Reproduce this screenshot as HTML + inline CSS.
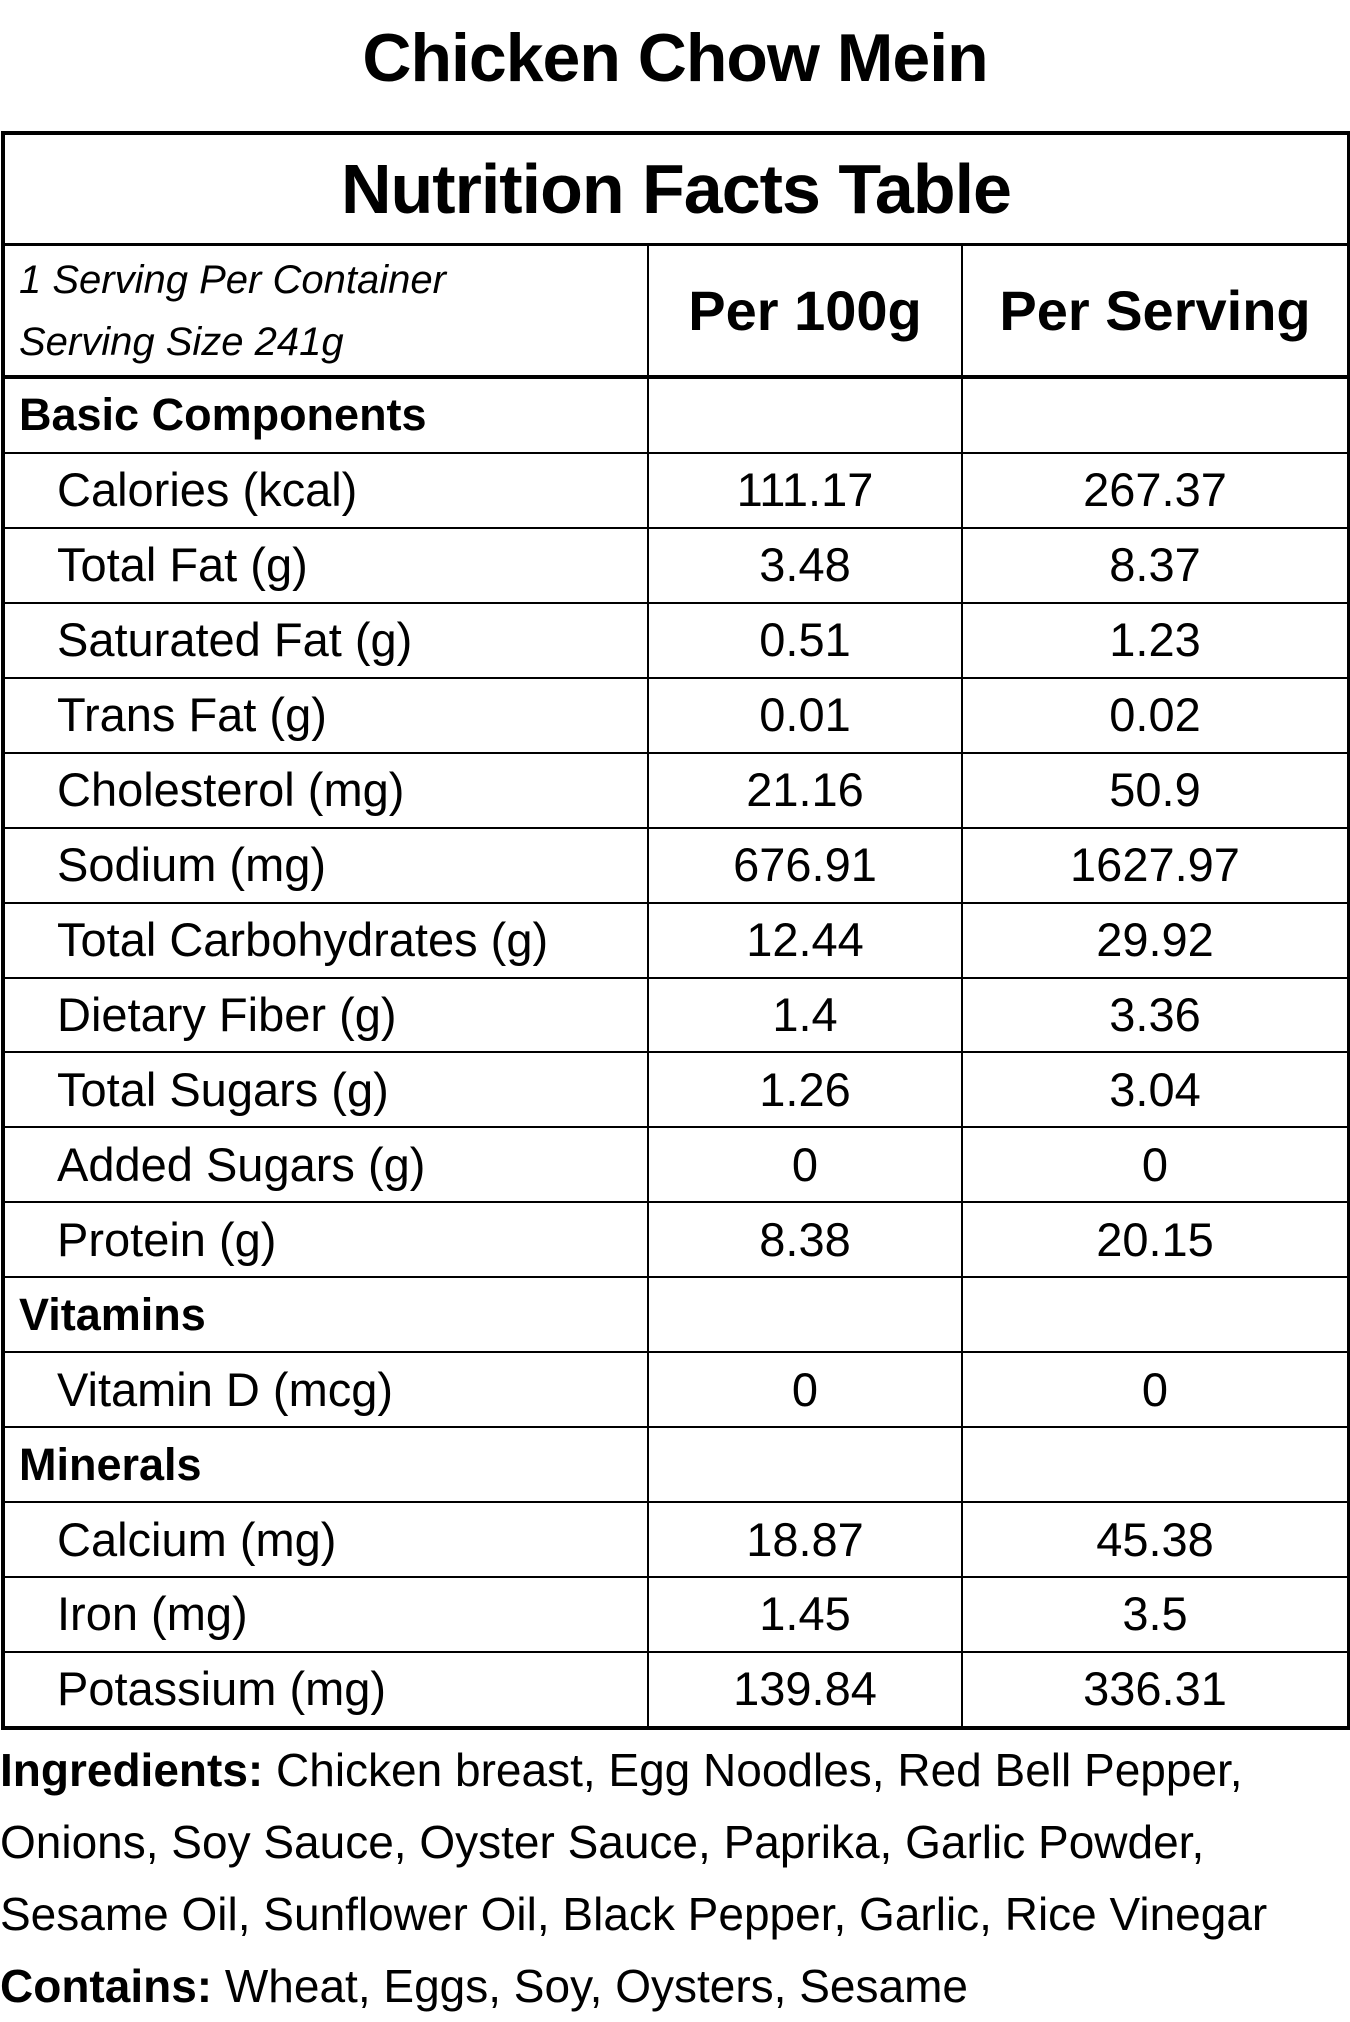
<!DOCTYPE html>
<html><head><meta charset="utf-8"><style>
html,body{margin:0;padding:0;background:#fff;width:1350px;height:2010px;overflow:hidden;font-family:"Liberation Sans",sans-serif;color:#000}
h1{position:absolute;top:18px;left:0;width:1350px;margin:0;text-align:center;font-size:68px;font-weight:bold;line-height:80px;letter-spacing:-1px}
table{position:absolute;left:1px;top:131px;width:1350px;border-collapse:collapse;table-layout:fixed;border:4px solid #000}
td{border:2px solid #000;padding:0;font-size:47px;text-align:center;height:72.95px;line-height:72px;white-space:nowrap;overflow:hidden}
td.l{text-align:left;padding-left:52px}
td.s{text-align:left;padding-left:14px;font-weight:bold;font-size:45px}
tr.title td{height:108px;font-size:70px;font-weight:bold;border-bottom:3px solid #000;letter-spacing:-1px}
tr.hd td{height:129px;border-bottom:4px solid #000;font-size:56px;font-weight:bold;line-height:62px}
tr.hd td.it{font-style:italic;font-weight:normal;font-size:40px;text-align:left;padding-left:14px;line-height:62px}
.ing{position:absolute;left:0;top:1734px;width:1350px;font-size:46px;line-height:72px}
</style></head><body>
<h1>Chicken Chow Mein</h1>
<table>
<colgroup><col style="width:645px"><col style="width:314px"><col></colgroup>
<tr class="title"><td colspan="3">Nutrition Facts Table</td></tr>
<tr class="hd"><td class="it">1 Serving Per Container<br>Serving Size 241g</td><td>Per 100g</td><td>Per Serving</td></tr>
<tr><td class="s">Basic Components</td><td></td><td></td></tr>
<tr><td class="l">Calories (kcal)</td><td>111.17</td><td>267.37</td></tr>
<tr><td class="l">Total Fat (g)</td><td>3.48</td><td>8.37</td></tr>
<tr><td class="l">Saturated Fat (g)</td><td>0.51</td><td>1.23</td></tr>
<tr><td class="l">Trans Fat (g)</td><td>0.01</td><td>0.02</td></tr>
<tr><td class="l">Cholesterol (mg)</td><td>21.16</td><td>50.9</td></tr>
<tr><td class="l">Sodium (mg)</td><td>676.91</td><td>1627.97</td></tr>
<tr><td class="l">Total Carbohydrates (g)</td><td>12.44</td><td>29.92</td></tr>
<tr><td class="l">Dietary Fiber (g)</td><td>1.4</td><td>3.36</td></tr>
<tr><td class="l">Total Sugars (g)</td><td>1.26</td><td>3.04</td></tr>
<tr><td class="l">Added Sugars (g)</td><td>0</td><td>0</td></tr>
<tr><td class="l">Protein (g)</td><td>8.38</td><td>20.15</td></tr>
<tr><td class="s">Vitamins</td><td></td><td></td></tr>
<tr><td class="l">Vitamin D (mcg)</td><td>0</td><td>0</td></tr>
<tr><td class="s">Minerals</td><td></td><td></td></tr>
<tr><td class="l">Calcium (mg)</td><td>18.87</td><td>45.38</td></tr>
<tr><td class="l">Iron (mg)</td><td>1.45</td><td>3.5</td></tr>
<tr><td class="l">Potassium (mg)</td><td>139.84</td><td>336.31</td></tr>
</table>
<div class="ing"><b>Ingredients:</b> Chicken breast, Egg Noodles, Red Bell Pepper,<br>Onions, Soy Sauce, Oyster Sauce, Paprika, Garlic Powder,<br>Sesame Oil, Sunflower Oil, Black Pepper, Garlic, Rice Vinegar<br><b>Contains:</b> Wheat, Eggs, Soy, Oysters, Sesame</div>
</body></html>
